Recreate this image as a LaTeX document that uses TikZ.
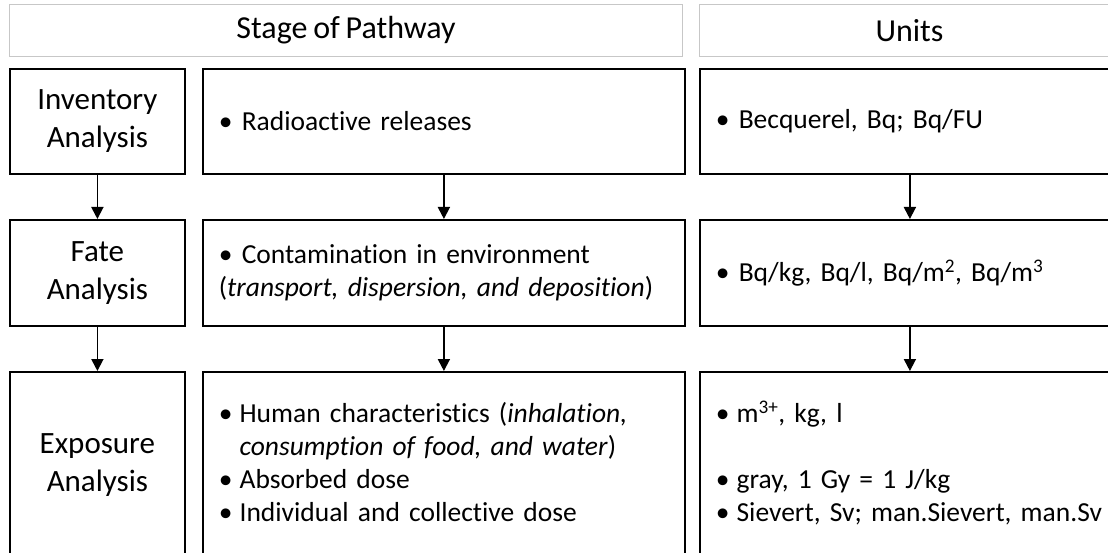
\documentclass[tikz,border=0pt]{standalone}
\usepackage{fontspec}
\setmainfont[Ligatures=CommonOff]{Carlito}
\usetikzlibrary{arrows.meta}
\newcommand{\headfont}{\fontsize{32}{38}\selectfont\spaceskip 0.18em\relax}
\newcommand{\listfont}{\fontsize{27.5}{33}\selectfont
  \spaceskip 0.17em\relax\xspaceskip 0.17em\relax}
\tikzset{
  headbox/.style={draw=black!22, line width=1pt, anchor=north west,
    minimum height=52pt, inner sep=0pt, font=\headfont},
  stagebox/.style={draw, line width=1.8pt, anchor=north west,
    minimum width=175pt, align=center, inner sep=0pt,
    font=\fontsize{31}{38}\selectfont},
  listbox/.style={draw, line width=1.8pt, anchor=north west,
    inner xsep=16pt, inner ysep=0pt, align=left, font=\listfont},
  flow/.style={line width=1.8pt, -{Triangle[length=12pt,width=12pt]}}
}
\newcommand{\bul}{\textbullet}
\begin{document}
\begin{tikzpicture}[x=1pt,y=-1pt]
\useasboundingbox (0,0) rectangle (1108,553);
\clip (0,0) rectangle (1108,553);
% column heads
\node[headbox, minimum width=673pt] (stagehead) at (9,4) {Stage of Pathway};
\node[headbox, minimum width=420pt] (unithead) at (699,4) {Units};
% left column
\node[stagebox, minimum height=105pt] (inv) at (9,68) {Inventory\\Analysis};
\node[stagebox, minimum height=106pt] (fate) at (9,219) {Fate\\Analysis};
\node[stagebox, minimum height=187pt] (expo) at (9,371) {Exposure\\Analysis};
% pathway column
\node[listbox, text width=450pt, minimum height=105pt] (release) at (202,68)
  {\bul\ Radioactive releases};
\node[listbox, text width=450pt, minimum height=106pt] (contam) at (202,219)
  {\bul\ Contamination in environment\\(\textit{transport, dispersion, and deposition})};
\node[listbox, text width=450pt, minimum height=187pt] (human) at (202,371)
  {\begin{tabular}{@{}l@{\hspace{7pt}}l@{}}
   \bul & Human characteristics (\textit{inhalation,}\\
        & \textit{consumption of food, and water})\\
   \bul & Absorbed dose\\
   \bul & Individual and collective dose
   \end{tabular}};
% units column
\node[listbox, text width=388pt, minimum height=105pt] (bqfu) at (699,68)
  {\bul\ Becquerel, Bq; Bq/FU};
\node[listbox, text width=388pt, minimum height=106pt] (bqkg) at (699,219)
  {\bul\ Bq/kg, Bq/l, Bq/m\textsuperscript{2}, Bq/m\textsuperscript{3}};
\node[listbox, text width=388pt, minimum height=187pt] (dose) at (699,371)
  {\begin{tabular}{@{}l@{\hspace{7pt}}l@{}}
   \bul & m\textsuperscript{3+}, kg, l\\
        & \\
   \bul & gray, 1 Gy = 1 J/kg\\
   \bul & Sievert, Sv; man.Sievert, man.Sv
   \end{tabular}};
% arrows
\draw[flow] (inv) -- (fate);
\draw[flow] (fate) -- (expo);
\draw[flow] (release) -- (contam);
\draw[flow] (contam) -- (human);
\draw[flow] (bqfu) -- (bqkg);
\draw[flow] (bqkg) -- (dose);
\end{tikzpicture}
\end{document}
